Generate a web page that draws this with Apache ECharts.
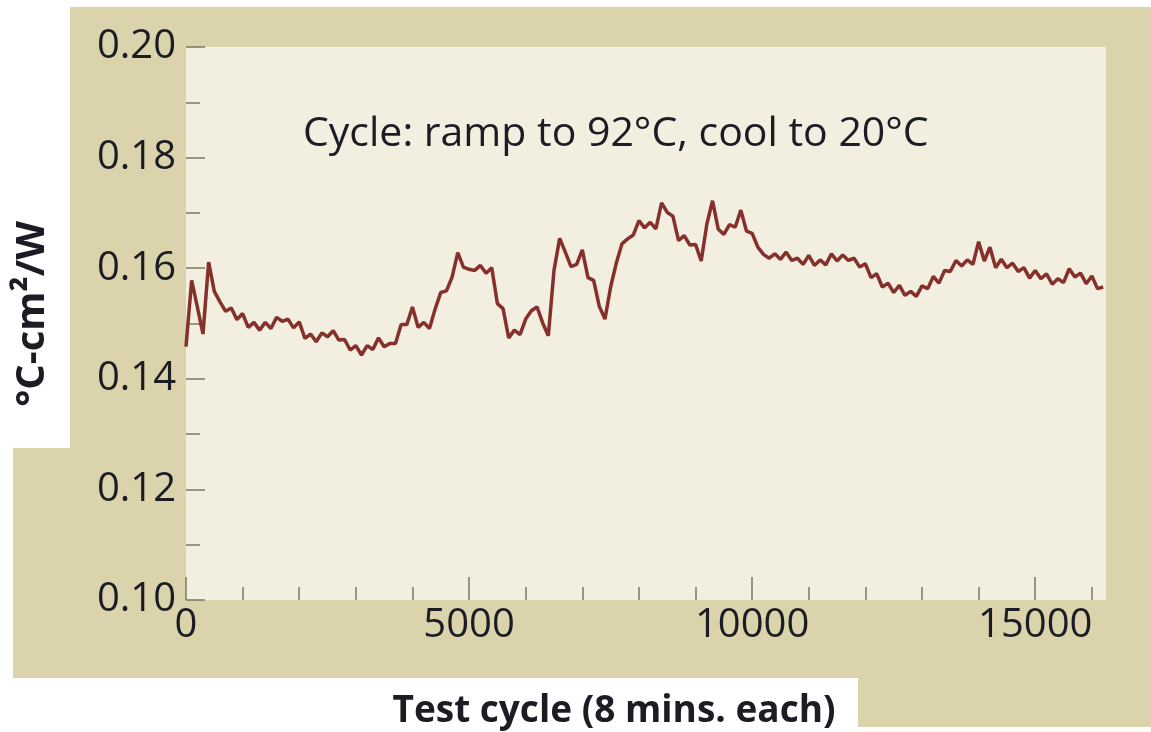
<!DOCTYPE html>
<html>
<head>
<meta charset="utf-8">
<title>Thermal resistance vs test cycle</title>
<script src="https://cdn.jsdelivr.net/npm/echarts@6/dist/echarts.min.js"></script>
<style>
  html, body { margin: 0; padding: 0; background: #ffffff; }
  #chart { width: 1151px; height: 732px; }
</style>
</head>
<body>
<div id="chart"></div>
<script>
// test cycle (x), one reading every 100 cycles
const cycles = [];
for (let c = 0; c <= 16200; c += 100) cycles.push(c);

// thermal resistance, degC-cm2/W
const resistance = [
  0.1458, 0.1578, 0.1530, 0.1481, 0.1611, 0.1558, 0.1539, 0.1522, 0.1528, 0.1507,
  0.1518, 0.1493, 0.1502, 0.1488, 0.1502, 0.1491, 0.1511, 0.1504, 0.1508, 0.1492,
  0.1503, 0.1473, 0.1481, 0.1467, 0.1483, 0.1476, 0.1487, 0.1470, 0.1471, 0.1452,
  0.1460, 0.1443, 0.1460, 0.1453, 0.1474, 0.1458, 0.1464, 0.1464, 0.1498, 0.1498,
  0.1530, 0.1493, 0.1502, 0.1491, 0.1526, 0.1556, 0.1559, 0.1584, 0.1628, 0.1602,
  0.1598, 0.1596, 0.1605, 0.1591, 0.1601, 0.1536, 0.1527, 0.1474, 0.1488, 0.1480,
  0.1508, 0.1523, 0.1530, 0.1501, 0.1478, 0.1596, 0.1654, 0.1629, 0.1603, 0.1607,
  0.1633, 0.1583, 0.1578, 0.1531, 0.1508, 0.1566, 0.1609, 0.1644, 0.1653, 0.1660,
  0.1686, 0.1673, 0.1683, 0.1671, 0.1718, 0.1701, 0.1694, 0.1650, 0.1659, 0.1642,
  0.1643, 0.1613, 0.1680, 0.1722, 0.1671, 0.1661, 0.1679, 0.1674, 0.1705, 0.1667,
  0.1663, 0.1638, 0.1625, 0.1618, 0.1626, 0.1616, 0.1629, 0.1614, 0.1618, 0.1607,
  0.1623, 0.1605, 0.1615, 0.1606, 0.1626, 0.1613, 0.1624, 0.1614, 0.1618, 0.1602,
  0.1608, 0.1583, 0.1590, 0.1566, 0.1573, 0.1556, 0.1569, 0.1551, 0.1558, 0.1549,
  0.1568, 0.1563, 0.1585, 0.1573, 0.1596, 0.1594, 0.1614, 0.1604, 0.1615, 0.1607,
  0.1648, 0.1613, 0.1638, 0.1601, 0.1616, 0.1601, 0.1609, 0.1594, 0.1601, 0.1582,
  0.1596, 0.1581, 0.1590, 0.1571, 0.1581, 0.1574, 0.1599, 0.1584, 0.1591, 0.1572,
  0.1586, 0.1563, 0.1566
];

// axis ticks
const xMinorTicks = [0, 1000, 2000, 3000, 4000, 5000, 6000, 7000, 8000, 9000, 10000,
  11000, 12000, 13000, 14000, 15000, 16000];
const xMajorTicks = [0, 5000, 10000, 15000];
const xMax = 16250;

const font = '"Open Sans", "Noto Sans", sans-serif';
const textColor = '#1c1c24';
const tickColor = '#7b7862';

let myChart = echarts.init(document.getElementById('chart'));

let options = {
  backgroundColor: '#ffffff',
  animation: false,
  textStyle: { fontFamily: font },
  graphic: [
    // beige frame behind the plot
    {
      type: 'polygon',
      z: -10,
      silent: true,
      shape: {
        points: [[70, 7], [1151, 7], [1151, 727], [858, 727], [858, 678],
          [13, 678], [13, 448], [70, 448]]
      },
      style: { fill: '#dbd3ab' }
    },
    // note inside the plot
    {
      type: 'text',
      left: 303,
      top: 114,
      style: {
        text: 'Cycle: ramp to 92°C, cool to 20°C',
        font: '41px "Open Sans", sans-serif',
        fill: textColor
      }
    },
    // axis titles
    {
      type: 'text',
      x: 614,
      y: 711,
      style: {
        text: 'Test cycle (8 mins. each)',
        font: 'bold 37px "Open Sans", sans-serif',
        fill: textColor,
        align: 'center',
        verticalAlign: 'middle'
      }
    },
    {
      type: 'text',
      x: 33,
      y: 314,
      rotation: Math.PI / 2,
      style: {
        text: '°C-cm²/W',
        font: 'bold 40px "Open Sans", sans-serif',
        fill: textColor,
        align: 'center',
        verticalAlign: 'middle'
      }
    }
  ],
  grid: {
    left: 186,
    top: 47,
    width: 920,
    height: 553,
    show: true,
    backgroundColor: '#f2eee0',
    borderWidth: 0
  },
  xAxis: [
    {
      type: 'value',
      min: 0,
      max: xMax,
      position: 'bottom',
      axisLine: { show: false },
      splitLine: { show: false },
      axisTick: {
        show: true,
        inside: true,
        length: 13,
        customValues: xMinorTicks,
        lineStyle: { color: tickColor, width: 1.5 }
      },
      axisLabel: { show: false }
    },
    {
      type: 'value',
      min: 0,
      max: xMax,
      position: 'bottom',
      axisLine: { show: false },
      splitLine: { show: false },
      axisTick: {
        show: true,
        inside: true,
        length: 23,
        customValues: xMajorTicks,
        lineStyle: { color: tickColor, width: 1.5 }
      },
      axisLabel: {
        customValues: xMajorTicks,
        fontFamily: font,
        fontSize: 40,
        color: textColor,
        margin: 6,
        formatter: function (v) { return String(v); }
      }
    }
  ],
  yAxis: {
    type: 'value',
    min: 0.10,
    max: 0.20,
    interval: 0.02,
    axisLine: { show: false },
    splitLine: { show: false },
    axisTick: {
      show: true,
      inside: true,
      length: 19,
      lineStyle: { color: tickColor, width: 1.5 }
    },
    minorTick: {
      show: true,
      splitNumber: 2,
      length: 14,
      lineStyle: { color: tickColor, width: 1.5 }
    },
    axisLabel: {
      fontFamily: font,
      fontSize: 40,
      color: textColor,
      margin: 10,
      formatter: function (v) { return v.toFixed(2); }
    }
  },
  series: [
    {
      type: 'line',
      xAxisIndex: 0,
      data: cycles.map((c, i) => [c, resistance[i]]),
      showSymbol: false,
      symbol: 'none',
      lineStyle: { color: '#85302a', width: 3.5 }
    }
  ]
};

myChart.setOption(options);
</script>
</body>
</html>
